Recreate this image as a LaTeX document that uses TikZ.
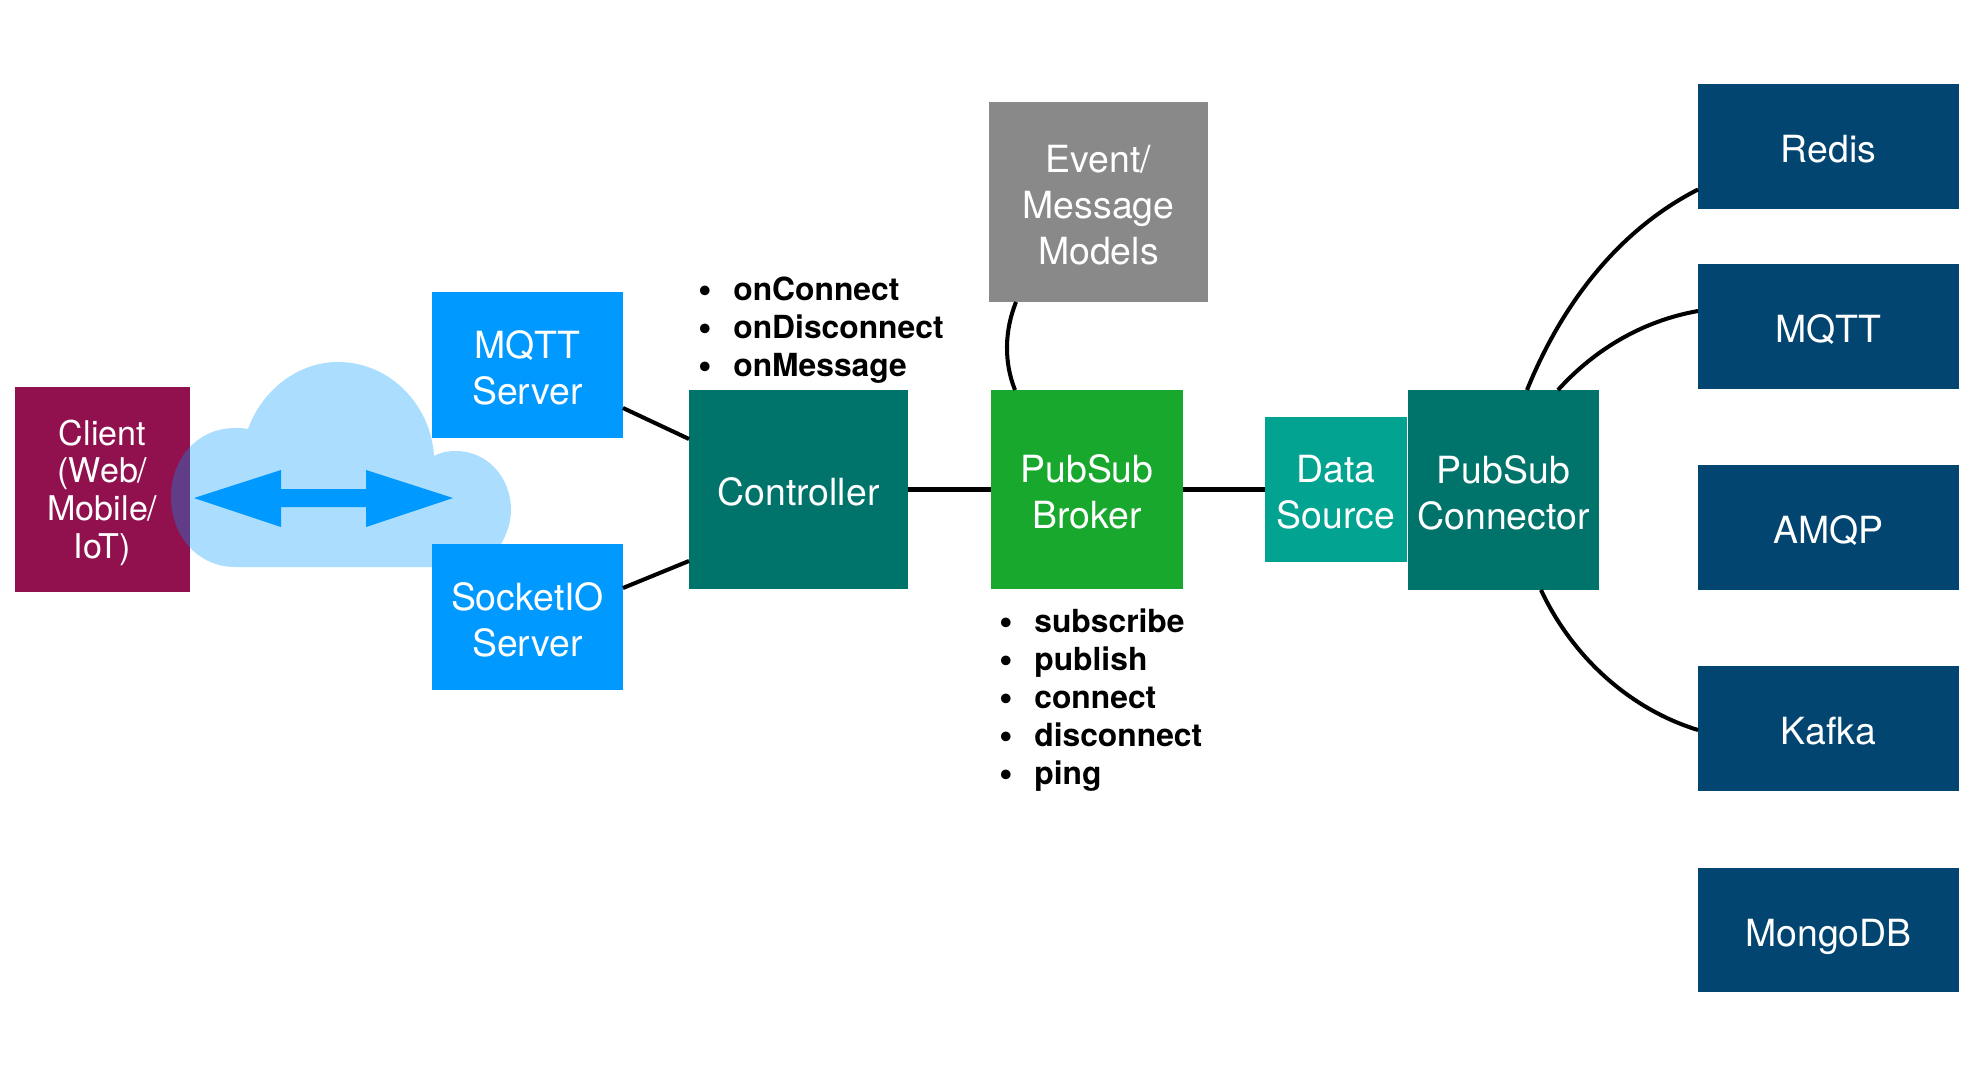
\documentclass[tikz,border=0pt]{standalone}
\usepackage{fontspec}
\setmainfont{TeX Gyre Heros}
\usepackage{tikz}
\usetikzlibrary{arrows.meta, positioning, calc}

\definecolor{clientred}{HTML}{91114F}
\definecolor{serverblue}{HTML}{0099FF}
\definecolor{ctrlteal}{HTML}{00736B}
\definecolor{brokergreen}{HTML}{18A82D}
\definecolor{modelgray}{HTML}{898989}
\definecolor{sourceteal}{HTML}{02A391}
\definecolor{backendblue}{HTML}{024571}

\newcommand{\apiitem}[1]{\makebox[0.7cm][l]{\raisebox{-1.3pt}{\fontsize{22}{21.6}\selectfont\textbullet}}#1}

\begin{document}
\begin{tikzpicture}[x=0.02cm, y=-0.02cm,
      box/.style={rectangle, inner sep=0pt, outer sep=0pt, text=white, align=center, text height=18.7pt, text depth=0pt, font=\fontsize{21.3}{26.2}\selectfont},
      client/.style={box, fill=clientred, minimum width=3.5cm, minimum height=4.1cm, text height=79pt, font=\fontsize{19.4}{21.6}\selectfont},
      server/.style={box, fill=serverblue, minimum width=3.82cm, minimum height=2.92cm, text height=44.9pt},
      ctrl/.style={box, fill=ctrlteal, minimum width=4.38cm, minimum height=3.98cm},
      broker/.style={box, fill=brokergreen, minimum width=3.84cm, minimum height=3.98cm, text height=44.9pt},
      model/.style={box, fill=modelgray, minimum width=4.38cm, minimum height=4cm, text height=71.1pt},
      source/.style={box, fill=sourceteal, minimum width=2.84cm, minimum height=2.9cm, text height=44.9pt},
      connector/.style={box, fill=ctrlteal, minimum width=3.82cm, minimum height=4cm, text height=44.9pt},
      backend/.style={box, fill=backendblue, minimum width=5.22cm, minimum height=2.5cm},
      api/.style={align=left, inner sep=0pt, anchor=west, font=\fontsize{18.1}{21.6}\selectfont\bfseries},
      link/.style={draw, line width=2.3pt, looseness=0.88}]

      \useasboundingbox (0,0) rectangle (1974,1074);

      \node[client] (client) at (102.5,489.5) {Client\\(Web/\\Mobile/\\IoT)};

      % Cloud
      \fill[serverblue, opacity=0.33] (235,567) .. controls (198,567) and (171,536) .. (171,497)
        .. controls (171,458) and (198,428) .. (235,428) .. controls (239,428) and (244,428) .. (248,429)
        .. controls (262,390) and (298,362) .. (338,362) .. controls (390,362) and (431,405) .. (434,456)
        .. controls (441,452) and (449,451) .. (456,451) .. controls (487,451) and (511,477) .. (511,510)
        .. controls (511,522) and (507,534) .. (500,546) .. controls (490,560) and (475,567) .. (456,567) -- cycle;
      \fill[serverblue] (194,498) -- (281,470) -- (281,489) -- (366,489) -- (366,470) -- (453,498)
        -- (366,527) -- (366,507) -- (281,507) -- (281,527) -- cycle;

      \node[server] (mqttserver) at (527.5,365) {MQTT\\Server};
      \node[server] (socketserver) at (527.5,617) {SocketIO\\Server};
      \node[ctrl] (controller) at (798.5,489.5) {Controller};
      \node[broker] (pubsub) at (1087,489.5) {PubSub\\Broker};
      \node[model] (models) at (1098.5,202) {Event/\\Message\\Models};
      \node[source] (datasource) at (1336,489.5) {Data\\Source};
      \node[connector] (pubconn) at (1503.5,490) {PubSub\\Connector};

      \node[backend] (redis) at (1828.5,146.5) {Redis};
      \node[backend] (mqtt) at (1828.5,326.5) {MQTT};
      \node[backend] (amqp) at (1828.5,527.5) {AMQP};
      \node[backend] (kafka) at (1828.5,728.5) {Kafka};
      \node[backend] (mongodb) at (1828.5,930) {MongoDB};

      % Annotations
      \node[api] (ctrlapi) at (698,330) {\apiitem{onConnect}\\\apiitem{onDisconnect}\\\apiitem{onMessage}};
      \node[api] (brokerapi) at (999,700) {\apiitem{subscribe}\\\apiitem{publish}\\\apiitem{connect}\\\apiitem{disconnect}\\\apiitem{ping}};

      % Links
      \draw[link] ([yshift=-0.86cm]mqttserver.east) -- ([yshift=1.01cm]controller.west);
      \draw[link] ([yshift=0.58cm]socketserver.east) -- ([yshift=-1.43cm]controller.west);
      \draw[link] (controller.east) -- (pubsub.west);
      \draw[link] (pubsub.east) -- (datasource.west);
      \draw[link] ([xshift=0.54cm]models.south west) to[out=248, in=112] ([xshift=0.48cm]pubsub.north west);
      \draw[link] ([xshift=0.47cm]pubconn.north) to[out=68, in=207] ([yshift=-0.86cm]redis.west);
      \draw[link] ([xshift=1.09cm]pubconn.north) to[out=48, in=190] ([yshift=0.31cm]mqtt.west);
      \draw[link] ([xshift=0.75cm]pubconn.south) to[out=-65, in=163] ([yshift=-0.03cm]kafka.west);
    \end{tikzpicture}
\end{document}
